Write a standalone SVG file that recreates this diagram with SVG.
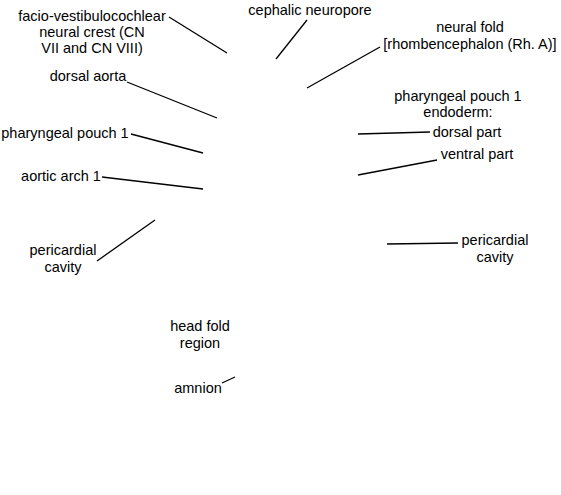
<svg xmlns="http://www.w3.org/2000/svg" width="561" height="495" viewBox="0 0 561 495">
<style>
text{font-family:"Liberation Sans",Arial,sans-serif;font-size:14.5px;fill:#000;text-anchor:middle}
line{stroke:#000;stroke-width:1.3}
</style>
<rect width="561" height="495" fill="#fff"/>
<g id="connectors">
<line x1="169" y1="17" x2="227" y2="53"/>
<line x1="307" y1="20" x2="276" y2="59"/>
<line x1="380" y1="47" x2="307" y2="88"/>
<line x1="127" y1="82" x2="217" y2="118"/>
<line x1="131" y1="134" x2="203" y2="153"/>
<line x1="102" y1="177" x2="203" y2="189"/>
<line x1="358" y1="134" x2="430" y2="132"/>
<line x1="358" y1="175" x2="437" y2="160"/>
<line x1="97" y1="261" x2="155" y2="220"/>
<line x1="387" y1="244" x2="458" y2="243"/>
<line x1="222" y1="383" x2="235" y2="377"/>
</g>
<g id="facio"><text x="92" y="21">facio-vestibulocochlear</text><text x="92" y="37">neural crest (CN</text><text x="92" y="53">VII and CN VIII)</text></g>
<g id="cephalic"><text x="310" y="15">cephalic neuropore</text></g>
<g id="neuralfold"><text x="470" y="32">neural fold</text><text x="470" y="49">[rhombencephalon (Rh. A)]</text></g>
<g id="dorsalaorta"><text x="88" y="81">dorsal aorta</text></g>
<g id="pp1left"><text x="65" y="138">pharyngeal pouch 1</text></g>
<g id="pp1right"><text x="458" y="101">pharyngeal pouch 1</text><text x="458" y="117">endoderm:</text></g>
<g id="dorsalpart"><text x="467" y="137">dorsal part</text></g>
<g id="ventralpart"><text x="477" y="159">ventral part</text></g>
<g id="aortic"><text x="61" y="181">aortic arch 1</text></g>
<g id="pericleft"><text x="63" y="255">pericardial</text><text x="63" y="272">cavity</text></g>
<g id="pericright"><text x="495" y="245">pericardial</text><text x="495" y="262">cavity</text></g>
<g id="headfold"><text x="200" y="331">head fold</text><text x="200" y="348">region</text></g>
<g id="amnion"><text x="198" y="393">amnion</text></g>
</svg>
